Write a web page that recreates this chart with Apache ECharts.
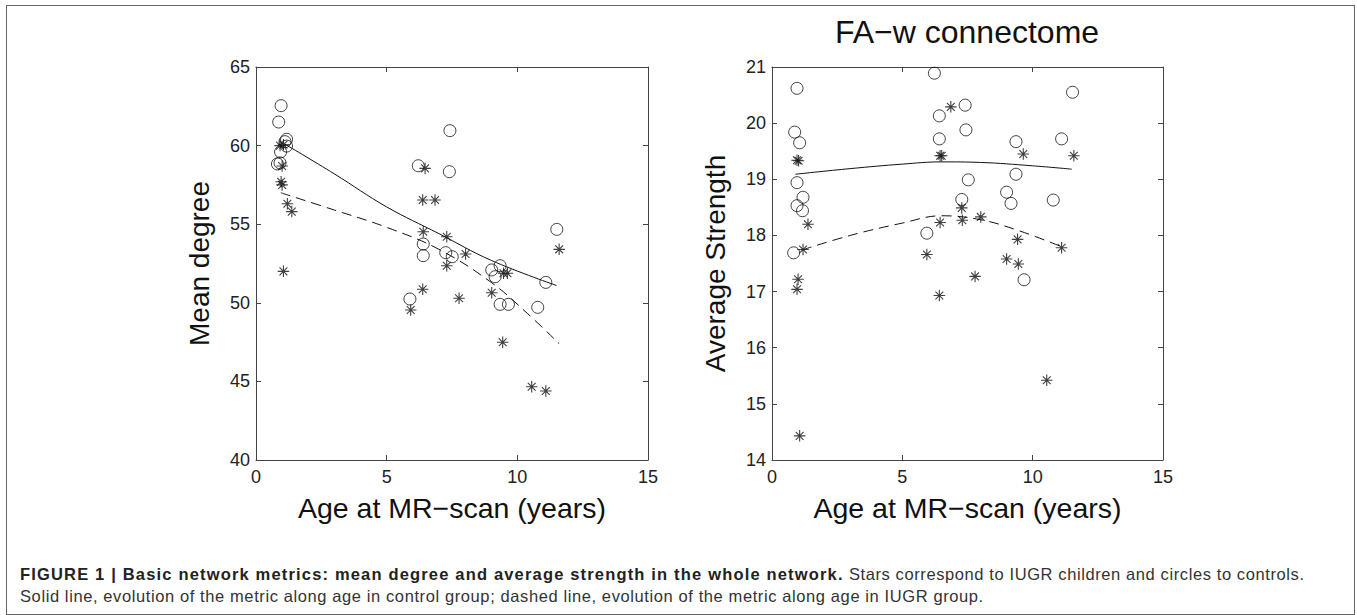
<!DOCTYPE html>
<html>
<head>
<meta charset="utf-8">
<script src="https://cdn.jsdelivr.net/npm/echarts@6/dist/echarts.min.js"></script>
<style>
  html, body { margin:0; padding:0; background:#fff; }
  #wrap { position:relative; width:1357px; height:615px; overflow:hidden; }
  #chart { position:absolute; left:0; top:0; width:1357px; height:615px; }
  #frame { position:absolute; left:6px; top:5px; width:1349px; height:610px; border:1.5px solid #666; box-sizing:border-box; pointer-events:none; }
  #caption { position:absolute; left:20px; top:563px; font-family:"Liberation Sans", Arial, sans-serif; font-size:16.5px; color:#333; line-height:22px; white-space:nowrap; letter-spacing:0.6px; }
  #caption b { color:#222; letter-spacing:1.17px; }
</style>
</head>
<body>
<div id="wrap">
  <div id="chart"></div>
  <div id="frame"></div>
  <div id="caption">
    <div><b>FIGURE 1 | Basic network metrics: mean degree and average strength in the whole network.</b> Stars correspond to IUGR children and circles to controls.</div>
    <div>Solid line, evolution of the metric along age in control group; dashed line, evolution of the metric along age in IUGR group.</div>
  </div>
</div>
<script>
// ---------- data ----------
const xTicks = { min: 0, max: 15, interval: 5 };
const leftYTicks = { min: 40, max: 65, interval: 5 };
const rightYTicks = { min: 14, max: 21, interval: 1 };

const leftTitleY = 'Mean degree';
const rightTitleY = 'Average Strength';
const xTitle = 'Age at MR\u2212scan (years)';
const rightTitle = 'FA\u2212w connectome';

// Mean degree – controls (circles)
const degreeControls = [
  [0.96,62.54],[0.87,61.5],[1.17,60.4],[1.11,60.25],[1.17,59.97],[0.94,59.6],[0.82,58.83],[0.92,58.9],
  [7.42,60.95],[6.21,58.72],[7.4,58.34],[11.51,54.67],[6.4,53.74],[6.4,53.0],[7.26,53.19],[7.51,52.93],
  [9.02,52.09],[9.34,52.36],[9.15,51.66],[11.09,51.3],[5.89,50.24],[9.34,49.9],[9.66,49.9],[10.78,49.71]
];
// Mean degree – IUGR (stars)
const degreeIUGR = [
  [0.92,60.0],[1.05,60.05],[1.0,58.7],[0.96,57.7],[1.0,57.5],[1.2,56.3],[1.37,55.8],[1.05,52.0],
  [6.47,58.55],[6.38,56.54],[6.85,56.54],[6.4,54.52],[7.3,54.2],[8.02,53.1],[7.3,52.36],[9.47,51.88],
  [9.62,51.88],[11.6,53.4],[9.02,50.64],[6.38,50.86],[7.77,50.29],[5.92,49.54],[9.44,47.49],[10.55,44.66],[11.09,44.39]
];
const degreeControlFit = [[1.1,60.1],[3,58.2],[5,56.1],[7,54.4],[9,52.7],[11.5,51.1]];
const degreeIUGRFit = [[0.95,57.0],[3,55.9],[5,54.8],[7,53.4],[9,51.3],[10.4,49.3],[11.6,47.4]];

// Average strength – controls (circles)
const strengthControls = [
  [0.96,20.62],[0.87,19.84],[1.06,19.65],[0.96,18.94],[1.19,18.68],[0.96,18.53],[1.17,18.44],[0.83,17.69],
  [6.23,20.89],[11.53,20.55],[7.41,20.32],[6.42,20.13],[7.44,19.88],[6.42,19.72],[9.36,19.67],[11.11,19.72],
  [7.53,18.99],[9.36,19.09],[9.0,18.77],[9.17,18.57],[7.28,18.64],[10.79,18.63],[5.94,18.04],[9.67,17.21]
];
// Average strength – IUGR (stars)
const strengthIUGR = [
  [0.96,19.34],[1.02,19.33],[1.38,18.2],[1.19,17.75],[1.0,17.22],[0.96,17.04],[1.06,14.43],
  [6.86,20.29],[6.45,19.42],[6.51,19.42],[9.64,19.45],[11.58,19.42],[7.28,18.49],[7.3,18.27],[6.45,18.23],
  [8.01,18.33],[9.42,17.93],[11.11,17.78],[5.94,17.66],[9.0,17.58],[9.45,17.49],[7.79,17.27],[6.42,16.93],[10.54,15.42]
];
const strengthControlFit = [[0.9,19.09],[3,19.19],[5,19.27],[6.5,19.31],[8,19.3],[10,19.24],[11.5,19.18]];
const strengthIUGRFit = [[1.15,17.74],[3,18.0],[5,18.22],[6.5,18.35],[8,18.28],[9.5,18.08],[11.1,17.8]];

// ---------- chart ----------
const FONT = '"Liberation Sans", Arial, Helvetica, sans-serif';
const AXIS_COLOR = '#444';
const STAR = 'path://M5 0 L5 10 M0 5 L10 5 M1.6 1.6 L8.4 8.4 M8.4 1.6 L1.6 8.4';

function bottomX(gridIndex) {
  return {
    type:'value', gridIndex, position:'bottom', ...xTicks,
    name: xTitle, nameLocation:'middle', nameGap: 33,
    nameTextStyle:{ fontSize:28.5, color:'#111', fontFamily:FONT },
    axisLine:{ show:true, onZero:false, lineStyle:{ color:AXIS_COLOR, width:1 } },
    axisTick:{ show:true, inside:true, length:5, lineStyle:{ color:AXIS_COLOR } },
    axisLabel:{ fontSize:18, color:'#222', margin:8, fontFamily:FONT },
    splitLine:{ show:false }
  };
}
function topX(gridIndex) {
  return {
    type:'value', gridIndex, position:'top', ...xTicks,
    axisLine:{ show:true, onZero:false, lineStyle:{ color:AXIS_COLOR, width:1 } },
    axisTick:{ show:true, inside:true, length:5, lineStyle:{ color:AXIS_COLOR } },
    axisLabel:{ show:false }, splitLine:{ show:false }
  };
}
function leftY(gridIndex, ticks, name) {
  return {
    type:'value', gridIndex, position:'left', ...ticks,
    name, nameLocation:'middle', nameGap: 43,
    nameTextStyle:{ fontSize:28, color:'#111', fontFamily:FONT },
    axisLine:{ show:true, onZero:false, lineStyle:{ color:AXIS_COLOR, width:1 } },
    axisTick:{ show:true, inside:true, length:5, lineStyle:{ color:AXIS_COLOR } },
    axisLabel:{ fontSize:18, color:'#222', margin:6, fontFamily:FONT },
    splitLine:{ show:false }
  };
}
function rightY(gridIndex, ticks) {
  return {
    type:'value', gridIndex, position:'right', ...ticks,
    axisLine:{ show:true, onZero:false, lineStyle:{ color:AXIS_COLOR, width:1 } },
    axisTick:{ show:true, inside:true, length:5, lineStyle:{ color:AXIS_COLOR } },
    axisLabel:{ show:false }, splitLine:{ show:false }
  };
}
function circles(data, xi, yi) {
  return { type:'scatter', xAxisIndex:xi, yAxisIndex:yi, data, symbol:'circle', symbolSize:12,
    itemStyle:{ color:'transparent', borderColor:'#111', borderWidth:1 }, silent:true, z:3 };
}
function stars(data, xi, yi) {
  return { type:'scatter', xAxisIndex:xi, yAxisIndex:yi, data, symbol:STAR, symbolSize:11.5,
    itemStyle:{ color:'transparent', borderColor:'#111', borderWidth:1.1 }, silent:true, z:3 };
}
function fit(data, xi, yi, dashed) {
  return { type:'line', xAxisIndex:xi, yAxisIndex:yi, data, smooth:0.4, showSymbol:false, symbol:'none',
    lineStyle:{ color:'#111', width:1, type: dashed ? [10,6] : 'solid' }, silent:true, z:2 };
}

const chart = echarts.init(document.getElementById('chart'), null, { renderer:'svg' });
chart.setOption({
  animation:false,
  backgroundColor:'#fff',
  textStyle:{ fontFamily:FONT },
  title:{ text:rightTitle, left:967, top:16, textAlign:'center', padding:0,
    textStyle:{ fontSize:32, fontWeight:'normal', color:'#111', fontFamily:FONT } },
  grid:[
    { left:256, top:67, width:392, height:393 },
    { left:772, top:67, width:391, height:393 }
  ],
  xAxis:[ bottomX(0), topX(0), bottomX(1), topX(1) ],
  yAxis:[ leftY(0, leftYTicks, leftTitleY), rightY(0, leftYTicks), leftY(1, rightYTicks, rightTitleY), rightY(1, rightYTicks) ],
  series:[
    fit(degreeControlFit, 0, 0, false),
    fit(degreeIUGRFit, 0, 0, true),
    circles(degreeControls, 0, 0),
    stars(degreeIUGR, 0, 0),
    fit(strengthControlFit, 2, 2, false),
    fit(strengthIUGRFit, 2, 2, true),
    circles(strengthControls, 2, 2),
    stars(strengthIUGR, 2, 2)
  ]
});
</script>
</body>
</html>
